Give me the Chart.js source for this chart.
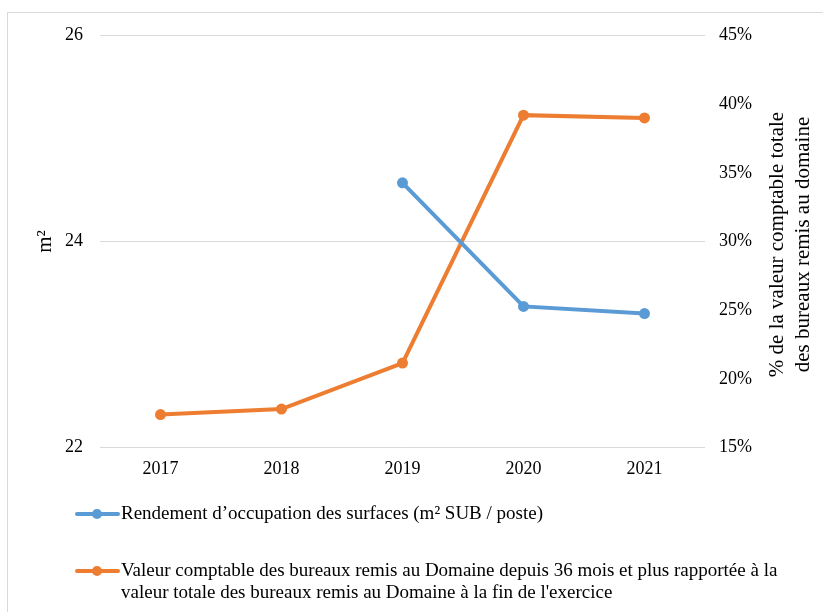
<!DOCTYPE html>
<html lang="fr">
<head>
    <meta charset="UTF-8">
    <title>Rendement d'occupation et valeur des bureaux remis au Domaine</title>
    <script src="https://cdn.jsdelivr.net/npm/chart.js"></script>
    <style>
        body {
            margin: 0;
            background: #ffffff;
        }
        #chart {
            display: block;
        }
    </style>
</head>
<body>
    <canvas id="chart" width="823" height="612"></canvas>

    <script>
        // data
        const years = ['2017', '2018', '2019', '2020', '2021'];
        const rendement = [null, null, 24.57, 23.37, 23.30];      // m² SUB / poste
        const valeurRemise = [17.4, 17.8, 21.15, 39.2, 39.0];     // % of total value
        const leftTicks = [22, 24, 26];
        const rightTicks = [15, 20, 25, 30, 35, 40, 45];

        const seriesNames = [
            ['Rendement d\u2019occupation des surfaces (m\u00b2 SUB / poste)'],
            ['Valeur comptable des bureaux remis au Domaine depuis 36 mois et plus rapport\u00e9e \u00e0 la',
             'valeur totale des bureaux remis au Domaine \u00e0 la fin de l\'exercice']
        ];
        const leftTitle = 'm\u00b2';
        const rightTitle = ['% de la valeur comptable totale', 'des bureaux remis au domaine'];

        const serif = "'Liberation Serif', 'Times New Roman', serif";
        const blue = '#5B9BD5';
        const orange = '#ED7D31';

        // frame, rotated axis titles and the wrapped legend
        const decorations = {
            id: 'decorations',
            beforeDraw(chart) {
                const ctx = chart.ctx;
                ctx.save();
                ctx.strokeStyle = '#d9d9d9';
                ctx.lineWidth = 1;
                ctx.strokeRect(7.5, 12.5, 900, 700);
                ctx.restore();
            },
            afterDraw(chart) {
                const ctx = chart.ctx;
                const area = chart.chartArea;
                const midY = (area.top + area.bottom) / 2;
                ctx.save();
                ctx.fillStyle = '#000';
                ctx.font = '21px ' + serif;
                ctx.textAlign = 'center';
                ctx.textBaseline = 'middle';

                // left title
                ctx.save();
                ctx.translate(45, midY);
                ctx.rotate(-Math.PI / 2);
                ctx.fillText(leftTitle, 0, 0);
                ctx.restore();

                // right title, two lines
                rightTitle.forEach((line, i) => {
                    ctx.save();
                    ctx.translate(777 + i * 26, midY + 3);
                    ctx.rotate(-Math.PI / 2);
                    ctx.fillText(line, 0, 0);
                    ctx.restore();
                });

                // legend
                ctx.font = '19px ' + serif;
                const rows = [514, 571];
                chart.data.datasets.forEach((ds, i) => {
                    const y = rows[i];
                    ctx.strokeStyle = ds.borderColor;
                    ctx.lineWidth = 4;
                    ctx.lineCap = 'round';
                    ctx.beginPath();
                    ctx.moveTo(77, y);
                    ctx.lineTo(118, y);
                    ctx.stroke();
                    ctx.fillStyle = ds.borderColor;
                    ctx.beginPath();
                    ctx.arc(97, y, 5, 0, Math.PI * 2);
                    ctx.fill();
                    ctx.fillStyle = '#000';
                    ctx.textAlign = 'left';
                    seriesNames[i].forEach((t, j) => {
                        ctx.fillText(t, 121, y + j * 22);
                    });
                });
                ctx.restore();
            }
        };

        new Chart(document.getElementById('chart'), {
            type: 'line',
            data: {
                labels: years,
                datasets: [{
                    label: seriesNames[0].join(' '),
                    data: rendement,
                    yAxisID: 'y',
                    borderColor: blue,
                    backgroundColor: blue,
                    borderWidth: 4,
                    pointRadius: 5.5,
                    pointHoverRadius: 5.5,
                    pointBorderWidth: 0,
                    spanGaps: false
                }, {
                    label: seriesNames[1].join(' '),
                    data: valeurRemise,
                    yAxisID: 'y1',
                    borderColor: orange,
                    backgroundColor: orange,
                    borderWidth: 4,
                    pointRadius: 5.5,
                    pointHoverRadius: 5.5,
                    pointBorderWidth: 0
                }]
            },
            options: {
                responsive: false,
                animation: false,
                layout: {
                    padding: { left: 0, right: 0, top: 35.5, bottom: 134.5 }
                },
                plugins: {
                    legend: { display: false },
                    tooltip: { enabled: false }
                },
                scales: {
                    x: {
                        offset: true,
                        grid: { display: false, drawTicks: false },
                        border: { display: false },
                        ticks: {
                            color: '#000',
                            font: { family: serif, size: 18 },
                            padding: 11,
                            maxRotation: 0
                        },
                        afterFit(scale) { scale.height = 30; }
                    },
                    y: {
                        position: 'left',
                        min: 22,
                        max: 26,
                        afterBuildTicks(scale) {
                            scale.ticks = leftTicks.map(v => ({ value: v }));
                        },
                        grid: { color: '#d9d9d9', lineWidth: 1, drawTicks: false },
                        border: { display: false },
                        ticks: {
                            color: '#000',
                            font: { family: serif, size: 18 },
                            padding: 17
                        },
                        afterFit(scale) { scale.width = 100; }
                    },
                    y1: {
                        position: 'right',
                        min: 15,
                        max: 45,
                        afterBuildTicks(scale) {
                            scale.ticks = rightTicks.map(v => ({ value: v }));
                        },
                        grid: { display: false, drawTicks: false },
                        border: { display: false },
                        ticks: {
                            color: '#000',
                            font: { family: serif, size: 18 },
                            padding: 14,
                            callback: v => v + '%'
                        },
                        afterFit(scale) { scale.width = 118; }
                    }
                }
            },
            plugins: [decorations]
        });
    </script>
</body>
</html>
